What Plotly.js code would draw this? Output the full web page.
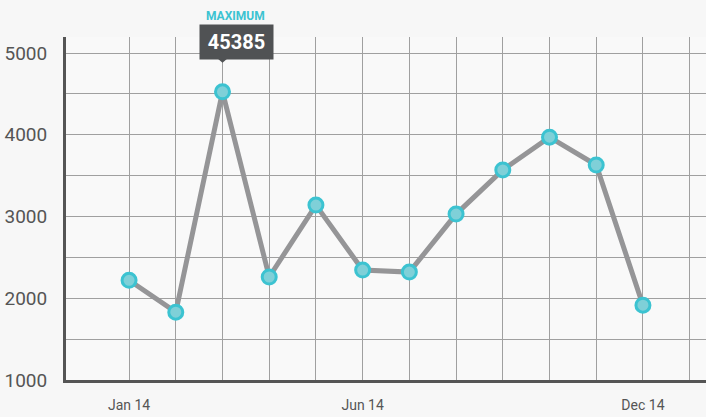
<!DOCTYPE html>
<html><head><meta charset="utf-8">
<script src="https://cdn.plot.ly/plotly-3.0.1.min.js"></script>
<style>html,body{margin:0;padding:0;background:#f7f7f7;}#c{width:706px;height:417px;}</style>
</head><body><div id="c"></div>
<script>
const months = ['Jan 14','Feb 14','Mar 14','Apr 14','May 14','Jun 14','Jul 14','Aug 14','Sep 14','Oct 14','Nov 14','Dec 14'];
const values = [2220, 1830, 4525, 2260, 3140, 2345, 2320, 3030, 3570, 3970, 3630, 1915];
const xTickLabels = ['Jan 14','','','','','Jun 14','','','','','','Dec 14',''];
const yTickVals = [1000,1500,2000,2500,3000,3500,4000,4500,5000];
const yTickText = ['1000','','2000','','3000','','4000','','5000'];
const maxLabel = 'MAXIMUM';
const maxText = '45385';

const idx = values.map((v,i)=>i);
const maxI = values.indexOf(Math.max(...values));
const font = 'Roboto, "DejaVu Sans Condensed", sans-serif';

const trace = {
  x: idx, y: values, type:'scatter', mode:'lines+markers',
  line:{color:'#959597', width:5},
  marker:{size:14, color:'#7fd0d8', line:{color:'#3cc3d1', width:3}},
  hoverinfo:'skip'
};

const layout = {
  width:706, height:417,
  margin:{l:66, r:0, t:37, b:37},
  paper_bgcolor:'#f7f7f7', plot_bgcolor:'#f9f9f9',
  showlegend:false,
  xaxis:{range:[-1.35,12.35], tickvals:idx.concat([12]), ticktext:xTickLabels,
    showgrid:true, gridcolor:'#a0a0a0', gridwidth:1, zeroline:false,
    showline:true, linecolor:'#555', linewidth:3, ticks:'',
    tickfont:{family:font, size:14, color:'#555'}, ticklabelstandoff:10, fixedrange:true},
  yaxis:{range:[1000,5196], tickvals:yTickVals, ticktext:yTickText,
    showgrid:true, gridcolor:'#a0a0a0', gridwidth:1, zeroline:false,
    showline:true, linecolor:'#555', linewidth:3, ticks:'',
    tickfont:{family:font, size:19, color:'#555'}, ticklabelstandoff:12, fixedrange:true},
  annotations:[
    {x:maxI, y:values[maxI], xref:'x', yref:'y', text:'<b>'+maxText+'</b>', showarrow:false,
     xshift:14, yshift:50, bgcolor:'#505254', borderpad:5, width:63,
     font:{family:font, size:20, color:'#ffffff'}},
    {x:maxI, y:values[maxI], xref:'x', yref:'y', text:'<b>'+maxLabel+'</b>', showarrow:false,
     xshift:13, yshift:76, font:{family:font, size:12, color:'#3cc3d1'}}
  ],
  shapes:[
    {type:'path', xref:'x', yref:'y', xsizemode:'pixel', ysizemode:'pixel',
     xanchor:maxI, yanchor:values[maxI], path:'M -7 35 L 7 35 L 0 29 Z',
     fillcolor:'#505254', line:{width:0}}
  ]
};
Plotly.newPlot('c',[trace],layout,{staticPlot:true});
</script></body></html>
